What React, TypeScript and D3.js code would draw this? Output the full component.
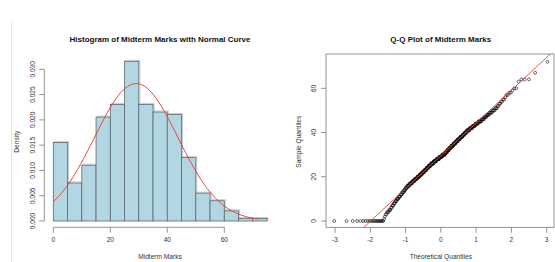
import React from "react";
import * as d3 from "d3";

const markCounts = [
  21, 1, 1, 2, 3, 3, 2, 3, 3, 3, 4,
  4, 4, 5, 4, 5, 7, 8, 8, 9, 9,
  9, 9, 9, 9, 10, 12, 12, 13, 13, 13,
  9, 9, 9, 10, 9, 9, 9, 9, 8, 8,
  9, 9, 8, 8, 8, 6, 5, 5, 5, 4,
  3, 2, 2, 2, 2, 1, 2, 2, 1, 2,
  0, 0, 1, 3, 0, 0, 1, 0, 0, 0, 0, 1,
];
const binEdges = [0, 5, 10, 15, 20, 25, 30, 35, 40, 45, 50, 55, 60, 65, 70, 75];
const histXTicks = [0, 20, 40, 60];
const histYTicks = [0, 0.005, 0.01, 0.015, 0.02, 0.025, 0.03];
const qqXTicks = [-3, -2, -1, 0, 1, 2, 3];
const qqYTicks = [0, 20, 40, 60];

// inverse normal CDF (Acklam)
function qnorm(p: number): number {
  const a = [-3.969683028665376e1, 2.209460984245205e2, -2.759285104469687e2, 1.38357751867269e2, -3.066479806614716e1, 2.506628277459239];
  const b = [-5.447609879822406e1, 1.615858368580409e2, -1.556989798598866e2, 6.680131188771972e1, -1.328068155288572e1];
  const c = [-7.784894002430293e-3, -3.223964580411365e-1, -2.400758277161838, -2.549732539343734, 4.374664141464968, 2.938163982698783];
  const d = [7.784695709041462e-3, 3.224671290700398e-1, 2.445134137142996, 3.754408661907416];
  const pl = 0.02425;
  if (p < pl) {
    const q = Math.sqrt(-2 * Math.log(p));
    return (((((c[0] * q + c[1]) * q + c[2]) * q + c[3]) * q + c[4]) * q + c[5]) / ((((d[0] * q + d[1]) * q + d[2]) * q + d[3]) * q + 1);
  }
  if (p > 1 - pl) {
    const q = Math.sqrt(-2 * Math.log(1 - p));
    return -(((((c[0] * q + c[1]) * q + c[2]) * q + c[3]) * q + c[4]) * q + c[5]) / ((((d[0] * q + d[1]) * q + d[2]) * q + d[3]) * q + 1);
  }
  const q = p - 0.5;
  const r = q * q;
  return ((((((a[0] * r + a[1]) * r + a[2]) * r + a[3]) * r + a[4]) * r + a[5]) * q) / (((((b[0] * r + b[1]) * r + b[2]) * r + b[3]) * r + b[4]) * r + 1);
}

const FONT = "'Liberation Sans', Arial, Helvetica, sans-serif";

export default function App() {
  const sample: number[] = [];
  markCounts.forEach((c, v) => {
    for (let k = 0; k < c; k++) sample.push(v);
  });
  const n = sample.length;
  const sorted = sample.slice().sort((a, b) => a - b);

  // histogram (right-closed bins like R)
  const bins = binEdges.slice(0, -1).map((lo, i) => {
    const hi = binEdges[i + 1];
    const cnt = sample.filter((v) => (i === 0 ? v >= lo : v > lo) && v <= hi).length;
    return { lo, hi, density: cnt / (n * (hi - lo)) };
  });
  const mu = d3.mean(sample) as number;
  const sd = d3.deviation(sample) as number;

  const hx = d3.scaleLinear().domain([0, 75]).range([53.3, 267.05]);
  const hy = d3.scaleLinear().domain([0, 0.03]).range([221, 69.3]);
  const curvePts = d3.range(0, 72.01, 0.5).map((x) => [x, Math.exp(-((x - mu) ** 2) / (2 * sd * sd)) / (sd * Math.sqrt(2 * Math.PI))]);
  const curveLine = d3.line<number[]>().x((d) => hx(d[0])).y((d) => hy(d[1]));

  // QQ
  const qx = d3.scaleLinear().domain([-3, 3]).range([335, 546.7]);
  const qy = d3.scaleLinear().domain([0, 60]).range([221, 88.3]);
  const qqPts = sorted.map((v, i) => [qnorm((i + 1 - 0.5) / n), v]);
  const q1 = d3.quantile(sorted, 0.25) as number;
  const q3 = d3.quantile(sorted, 0.75) as number;
  const slope = (q3 - q1) / (qnorm(0.75) - qnorm(0.25));
  const intercept = q1 - slope * qnorm(0.25);
  const boxL = 326, boxR = 554, boxT = 54, boxB = 227.3;
  const xl = qx.invert(boxL), xr = qx.invert(boxR);

  const axisCol = "#7a7a7a";
  const textCol = "#333333";
  const fs = 6.6;
  const tickY = 241.8;

  return (
    <svg width={555} height={262} style={{ position: "absolute", left: 0, top: 0, background: "#fff" }} fontFamily={FONT}>
      <defs>
        <clipPath id="qqclip">
          <rect x={boxL} y={boxT} width={boxR - boxL} height={boxB - boxT} />
        </clipPath>
      </defs>
      <line x1={11.5} x2={11.5} y1={22} y2={262} stroke="#e6e6e6" strokeWidth={1} />

      {/* Histogram */}
      <text x={160} y={41.5} textAnchor="middle" fontWeight="bold" fontSize={8} fill="#111">
        Histogram of Midterm Marks with Normal Curve
      </text>
      {bins.map((b, i) => (
        <rect key={"s" + i} x={hx(b.lo) + 1} y={hy(b.density) - 1} width={hx(b.hi) - hx(b.lo)} height={hy(0) - hy(b.density)} fill="none" stroke="#c2c8cb" strokeWidth={0.9} />
      ))}
      {bins.map((b, i) => (
        <rect key={"b" + i} x={hx(b.lo)} y={hy(b.density)} width={hx(b.hi) - hx(b.lo)} height={hy(0) - hy(b.density)} fill="#b3d7e2" stroke="#5b6870" strokeWidth={0.8} />
      ))}
      <path d={curveLine(curvePts) as string} fill="none" stroke="#f0412f" strokeWidth={1} />
      <line x1={hx(0)} x2={hx(60)} y1={227.3} y2={227.3} stroke={axisCol} strokeWidth={0.8} />
      {histXTicks.map((t) => (
        <g key={"hx" + t}>
          <line x1={hx(t)} x2={hx(t)} y1={227.3} y2={232.8} stroke={axisCol} strokeWidth={0.8} />
          <text x={hx(t)} y={tickY} textAnchor="middle" fontSize={fs} fill={textCol}>{t}</text>
        </g>
      ))}
      <line x1={44.3} x2={44.3} y1={hy(0)} y2={hy(0.03)} stroke={axisCol} strokeWidth={0.8} />
      {histYTicks.map((t) => (
        <g key={"hy" + t}>
          <line x1={39.3} x2={44.3} y1={hy(t)} y2={hy(t)} stroke={axisCol} strokeWidth={0.8} />
          <text transform={`translate(34.6,${hy(t)}) rotate(-90)`} textAnchor="middle" fontSize={fs} fill={textCol}>{t.toFixed(3)}</text>
        </g>
      ))}
      <text x={160} y={259} textAnchor="middle" fontSize={fs} fill={textCol}>Midterm Marks</text>
      <text transform={`translate(19,141.7) rotate(-90)`} textAnchor="middle" fontSize={fs} fill={textCol}>Density</text>

      {/* QQ plot */}
      <text x={440.8} y={41.5} textAnchor="middle" fontWeight="bold" fontSize={8} fill="#111">
        Q-Q Plot of Midterm Marks
      </text>
      <rect x={boxL} y={boxT} width={boxR - boxL} height={boxB - boxT} fill="none" stroke={axisCol} strokeWidth={0.8} />
      {qqXTicks.map((t) => (
        <g key={"qx" + t}>
          <line x1={qx(t)} x2={qx(t)} y1={boxB} y2={boxB + 5.5} stroke={axisCol} strokeWidth={0.8} />
          <text x={qx(t)} y={tickY} textAnchor="middle" fontSize={fs} fill={textCol}>{t}</text>
        </g>
      ))}
      {qqYTicks.map((t) => (
        <g key={"qy" + t}>
          <line x1={boxL - 5} x2={boxL} y1={qy(t)} y2={qy(t)} stroke={axisCol} strokeWidth={0.8} />
          <text transform={`translate(315.6,${qy(t)}) rotate(-90)`} textAnchor="middle" fontSize={fs} fill={textCol}>{t}</text>
        </g>
      ))}
      <g clipPath="url(#qqclip)">
        {qqPts.map((p, i) => (
          <circle key={"p" + i} cx={qx(p[0])} cy={qy(p[1])} r={1.45} fill="none" stroke="#111" strokeWidth={0.6} />
        ))}
        <line x1={qx(xl)} x2={qx(xr)} y1={qy(intercept + slope * xl)} y2={qy(intercept + slope * xr)} stroke="#f0412f" strokeWidth={0.9} />
      </g>
      <text x={440.8} y={259} textAnchor="middle" fontSize={fs} fill={textCol}>Theoretical Quantiles</text>
      <text transform={`translate(300.6,141.7) rotate(-90)`} textAnchor="middle" fontSize={fs} fill={textCol}>Sample Quantiles</text>
    </svg>
  );
}
